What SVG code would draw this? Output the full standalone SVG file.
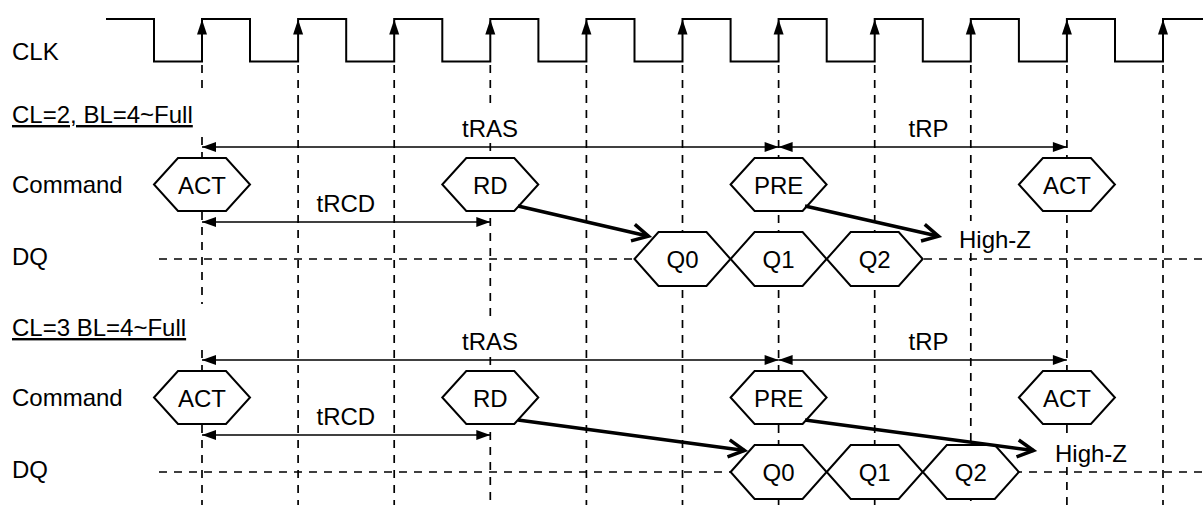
<svg xmlns="http://www.w3.org/2000/svg" xmlns:xlink="http://www.w3.org/1999/xlink" width="1203" height="505" viewBox="0 0 1203 505">
<style>
text{font-family:"Liberation Sans",Arial,sans-serif;font-size:24px;fill:#000}
.mid{text-anchor:middle}
.clk{fill:none;stroke:#000;stroke-width:2}
.grid{fill:none;stroke:#000;stroke-width:1.7;stroke-dasharray:8 7}
.hex{fill:#fff;stroke:#000;stroke-width:2;stroke-linejoin:miter}
.tim{fill:none;stroke:#000;stroke-width:1.5;marker-start:url(#tri);marker-end:url(#tri)}
.cause{fill:none;stroke:#000;stroke-width:3.5;marker-end:url(#open)}
</style>
<defs>
<marker id="tri" markerUnits="userSpaceOnUse" markerWidth="20" markerHeight="12" viewBox="-15 -6 16 12" refX="0" refY="0" orient="auto-start-reverse">
<path d="M0,0 L-14,-5 L-14,5 Z" fill="#000"/>
</marker>
<marker id="open" markerUnits="userSpaceOnUse" markerWidth="30" markerHeight="30" viewBox="-22 -15 30 30" refX="0" refY="0" orient="auto" overflow="visible">
<path d="M-16,-8.5 L0,0 L-16,8.5" fill="none" stroke="#000" stroke-width="3.5"/>
</marker>
<path id="edge" d="M0,0 L-5,15 L5,15 Z" fill="#000"/>
<polygon id="hexC" points="-48,0 -24,-26.5 24,-26.5 48,0 24,26.5 -24,26.5"/>
<polygon id="hexQ" points="-48,0 -24,-27 24,-27 48,0 24,27 -24,27"/>
</defs>
<rect width="1203" height="505" fill="#fff"/>

<g id="labels">
<text x="12" y="60">CLK</text>
<text x="12" y="123" text-decoration="underline">CL=2, BL=4~Full</text>
<text x="12" y="193">Command</text>
<text x="12" y="265">DQ</text>
<text x="12" y="336" text-decoration="underline">CL=3 BL=4~Full</text>
<text x="12" y="406">Command</text>
<text x="12" y="478">DQ</text>
</g>

<g id="clock">
<path class="clk" d="M106,19 H154 V61.5 H202 V19 H250 V61.5 H298.1 V19 H346.2 V61.5 H394.2 V19 H442.3 V61.5 H490.3 V19 H538.4 V61.5 H586.4 V19 H634.5 V61.5 H682.5 V19 H730.6 V61.5 H778.6 V19 H826.7 V61.5 H874.7 V19 H922.8 V61.5 H970.8 V19 H1018.9 V61.5 H1066.9 V19 H1115 V61.5 H1163 V19 H1203"/>
<use xlink:href="#edge" x="202" y="19.5"/>
<use xlink:href="#edge" x="298.1" y="19.5"/>
<use xlink:href="#edge" x="394.2" y="19.5"/>
<use xlink:href="#edge" x="490.3" y="19.5"/>
<use xlink:href="#edge" x="586.4" y="19.5"/>
<use xlink:href="#edge" x="682.5" y="19.5"/>
<use xlink:href="#edge" x="778.6" y="19.5"/>
<use xlink:href="#edge" x="874.7" y="19.5"/>
<use xlink:href="#edge" x="970.8" y="19.5"/>
<use xlink:href="#edge" x="1066.9" y="19.5"/>
<use xlink:href="#edge" x="1163" y="19.5"/>
</g>

<g id="gridlines">
<path class="grid" d="M202,65 V90 M202,137 V304 M202,350 V505"/>
<path class="grid" d="M298.1,65 V505"/>
<path class="grid" d="M394.2,65 V505"/>
<path class="grid" d="M490.3,65 V108 M490.3,143 V322 M490.3,357 V505"/>
<path class="grid" d="M586.4,65 V505"/>
<path class="grid" d="M682.5,65 V505"/>
<path class="grid" d="M778.6,65 V505"/>
<path class="grid" d="M874.7,65 V505"/>
<path class="grid" d="M970.8,65 V221 M970.8,253 V505"/>
<path class="grid" d="M1066.9,65 V436 M1066.9,467 V505"/>
<path class="grid" d="M1163,65 V505"/>
<path class="grid" d="M159,259 H1203"/>
<path class="grid" d="M159,472 H1203"/>
</g>

<g id="timings">
<path class="tim" d="M202,147 H778.6"/>
<path class="tim" d="M778.6,147 H1066.9"/>
<path class="tim" d="M202,222 H490.3"/>
<text x="490" y="137" class="mid">tRAS</text>
<text x="908.5" y="137">tRP</text>
<text x="316.5" y="211.5">tRCD</text>
<path class="tim" d="M202,360 H778.6"/>
<path class="tim" d="M778.6,360 H1066.9"/>
<path class="tim" d="M202,435 H490.3"/>
<text x="490" y="350" class="mid">tRAS</text>
<text x="908.5" y="350">tRP</text>
<text x="316.5" y="424.5">tRCD</text>
</g>

<g id="u-act1" transform="translate(202,184.5)"><use xlink:href="#hexC" class="hex"/><text class="mid" y="9">ACT</text></g>
<g id="u-rd" transform="translate(490.3,184.5)"><use xlink:href="#hexC" class="hex"/><text class="mid" y="9">RD</text></g>
<g id="u-pre" transform="translate(778.6,184.5)"><use xlink:href="#hexC" class="hex"/><text class="mid" y="9">PRE</text></g>
<g id="u-act2" transform="translate(1066.9,184.5)"><use xlink:href="#hexC" class="hex"/><text class="mid" y="9">ACT</text></g>
<g id="u-q0" transform="translate(682.5,259)"><use xlink:href="#hexQ" class="hex"/><text class="mid" y="9">Q0</text></g>
<g id="u-q1" transform="translate(778.6,259)"><use xlink:href="#hexQ" class="hex"/><text class="mid" y="9">Q1</text></g>
<g id="u-q2" transform="translate(874.7,259)"><use xlink:href="#hexQ" class="hex"/><text class="mid" y="9">Q2</text></g>
<g id="u-highz"><text x="959" y="248">High-Z</text></g>

<g id="l-act1" transform="translate(202,397.5)"><use xlink:href="#hexC" class="hex"/><text class="mid" y="9">ACT</text></g>
<g id="l-rd" transform="translate(490.3,397.5)"><use xlink:href="#hexC" class="hex"/><text class="mid" y="9">RD</text></g>
<g id="l-pre" transform="translate(778.6,397.5)"><use xlink:href="#hexC" class="hex"/><text class="mid" y="9">PRE</text></g>
<g id="l-act2" transform="translate(1066.9,397.5)"><use xlink:href="#hexC" class="hex"/><text class="mid" y="9">ACT</text></g>
<g id="l-q0" transform="translate(778.6,472)"><use xlink:href="#hexQ" class="hex"/><text class="mid" y="9">Q0</text></g>
<g id="l-q1" transform="translate(874.7,472)"><use xlink:href="#hexQ" class="hex"/><text class="mid" y="9">Q1</text></g>
<g id="l-q2" transform="translate(970.8,472)"><use xlink:href="#hexQ" class="hex"/><text class="mid" y="9">Q2</text></g>
<g id="l-highz"><text x="1055" y="461.5">High-Z</text></g>

<g id="connectors">
<path class="cause" d="M518,206 L648.5,236.2"/>
<path class="cause" d="M805,206 L938.5,236.2"/>
<path class="cause" d="M518,420 L744.5,450.5"/>
<path class="cause" d="M805,420 L1033.5,450.5"/>
</g>
</svg>
